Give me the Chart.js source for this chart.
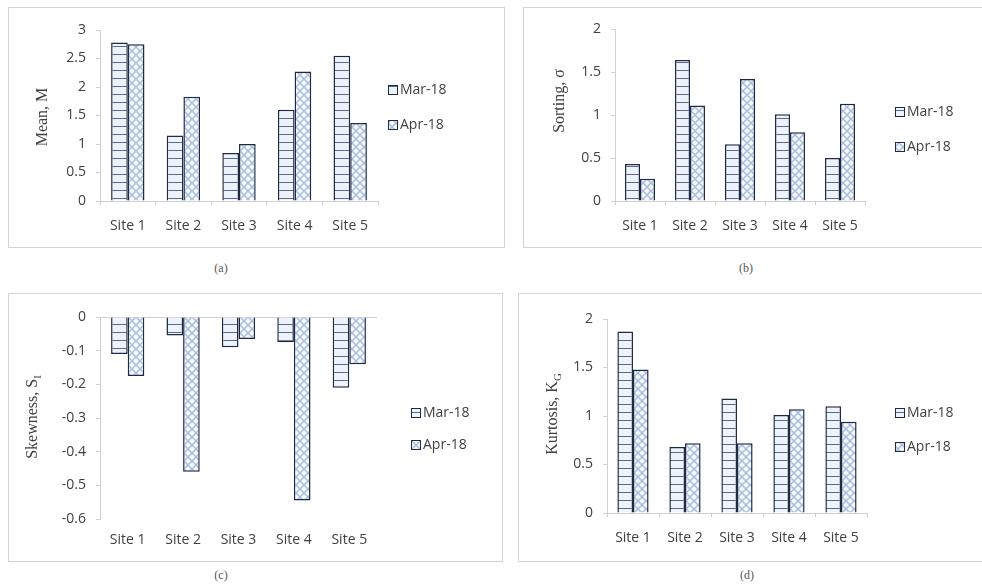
<!DOCTYPE html>
<html>
<head>
<meta charset="utf-8">
<script src="https://cdn.jsdelivr.net/npm/chart.js@4.4.0/dist/chart.umd.min.js"></script>
<style>
body{margin:0;background:#fff;width:982px;height:587px;position:relative;overflow:hidden;font-family:"Open Sans",sans-serif}
.box{position:absolute;border:1px solid #d4d4d4;box-sizing:border-box}
canvas{position:absolute}
.cap{position:absolute;font:12px "Liberation Serif",serif;color:#555;transform:translate(-50%,-50%)}
</style>
</head>
<body>
<div class="box" style="left:8px;top:7px;width:497px;height:241px"></div>
<div class="box" style="left:523px;top:7px;width:470px;height:241px"></div>
<div class="box" style="left:8px;top:293px;width:495px;height:269px"></div>
<div class="box" style="left:518px;top:293px;width:475px;height:269px"></div>
<canvas id="cA" width="497" height="241" style="left:8px;top:7px"></canvas>
<canvas id="cB" width="459" height="241" style="left:523px;top:7px"></canvas>
<canvas id="cC" width="495" height="269" style="left:8px;top:293px"></canvas>
<canvas id="cD" width="464" height="269" style="left:518px;top:293px"></canvas>
<div class="cap" style="left:221px;top:268px">(a)</div>
<div class="cap" style="left:746px;top:268px">(b)</div>
<div class="cap" style="left:221px;top:575px">(c)</div>
<div class="cap" style="left:747px;top:575px">(d)</div>
<script>
const sites = ['Site 1', 'Site 2', 'Site 3', 'Site 4', 'Site 5'];
const seriesNames = ['Mar-18', 'Apr-18'];

const meanMar = [2.78, 1.15, 0.84, 1.6, 2.55];
const meanApr = [2.75, 1.83, 1.0, 2.27, 1.37];
const sortMar = [0.43, 1.64, 0.66, 1.01, 0.5];
const sortApr = [0.26, 1.11, 1.42, 0.8, 1.13];
const skewMar = [-0.11, -0.055, -0.09, -0.075, -0.21];
const skewApr = [-0.175, -0.46, -0.065, -0.545, -0.14];
const kurtMar = [1.87, 0.68, 1.18, 1.01, 1.1];
const kurtApr = [1.48, 0.72, 0.72, 1.07, 0.94];

// hatch patterns similar to the Excel fills
function makePattern(kind) {
    const p = document.createElement('canvas');
    p.width = 8; p.height = 8;
    const g = p.getContext('2d');
    if (kind === 'h') {
        g.fillStyle = '#eef2fa';
        g.fillRect(0, 0, 8, 8);
        g.fillStyle = '#5b6a8c';
        g.fillRect(0, 7, 8, 1);
    } else {
        g.fillStyle = '#f5f8fd';
        g.fillRect(0, 0, 8, 8);
        g.strokeStyle = '#a9bde0';
        g.lineWidth = 1.5;
        g.beginPath();
        g.moveTo(0, 0); g.lineTo(8, 8);
        g.moveTo(8, 0); g.lineTo(0, 8);
        g.stroke();
    }
    return g.createPattern(p, 'repeat');
}
const marFill = makePattern('h');
const aprFill = makePattern('x');

const decor = {
    id: 'decor',
    afterDraw(chart, args, o) {
        const c = chart.ctx;
        c.save();
        c.translate(o.tx, o.ty);
        c.rotate(-Math.PI / 2);
        c.fillStyle = '#404040';
        c.textBaseline = 'middle';
        c.font = '16px "Liberation Serif"';
        const w1 = c.measureText(o.title).width;
        c.font = '11px "Liberation Serif"';
        const w2 = o.sub ? c.measureText(o.sub).width : 0;
        const x = -(w1 + w2) / 2;
        c.font = '16px "Liberation Serif"';
        c.fillText(o.title, x, 0);
        if (o.sub) {
            c.font = '11px "Liberation Serif"';
            c.fillText(o.sub, x + w1, 5);
        }
        c.restore();

        c.save();
        chart.data.datasets.forEach((ds, i) => {
            const y = o.ly[i];
            c.fillStyle = ds.backgroundColor;
            c.fillRect(o.lx, y - 5, 10, 10);
            c.strokeStyle = '#1f2a44';
            c.lineWidth = 1;
            c.strokeRect(o.lx + 0.5, y - 4.5, 9, 9);
            c.fillStyle = '#404040';
            c.font = '14px "Open Sans"';
            c.textBaseline = 'middle';
            c.fillText(ds.label, o.lx + 12, y);
        });
        c.restore();
    }
};

const fmt = v => String(Number(v.toFixed(2)));

function makeChart(id, mar, apr, yMin, yMax, step, pad, deco, negative) {
    return new Chart(document.getElementById(id), {
        type: 'bar',
        data: {
            labels: sites,
            datasets: [{
                label: seriesNames[0],
                data: mar,
                backgroundColor: marFill,
                borderColor: '#1f2a44',
                borderWidth: 1.5
            }, {
                label: seriesNames[1],
                data: apr,
                backgroundColor: aprFill,
                borderColor: '#1f2a44',
                borderWidth: 1.5
            }]
        },
        options: {
            responsive: false,
            animation: false,
            layout: { padding: pad },
            datasets: { bar: { categoryPercentage: 0.6, barPercentage: 1 } },
            plugins: {
                legend: { display: false },
                tooltip: { enabled: false },
                decor: deco
            },
            scales: {
                x: {
                    afterFit: s => { s.height = 30; },
                    border: { display: !negative, color: '#d0d0d0' },
                    grid: {
                        drawOnChartArea: false,
                        tickLength: 4,
                        color: negative ? 'rgba(0,0,0,0)' : '#d0d0d0'
                    },
                    ticks: {
                        autoSkip: false, maxRotation: 0, padding: negative ? 9 : 13,
                        color: '#404040', font: { family: 'Open Sans', size: 14 }
                    }
                },
                y: {
                    min: yMin,
                    max: yMax,
                    afterFit: s => { s.width = 60; },
                    border: { color: '#d0d0d0' },
                    grid: {
                        drawOnChartArea: !!negative,
                        tickLength: 4,
                        tickColor: '#d0d0d0',
                        color: ctx => (ctx.tick && ctx.tick.value === 0) ? '#d0d0d0' : 'rgba(0,0,0,0)'
                    },
                    ticks: {
                        stepSize: step, padding: 10, callback: fmt,
                        color: '#404040', font: { family: 'Open Sans', size: 14 }
                    }
                }
            }
        },
        plugins: [decor]
    });
}

makeChart('cA', meanMar, meanApr, 0, 3, 0.5,
    { left: 32, right: 127, top: 23, bottom: 17 },
    { title: 'Mean, M', sub: '', tx: 35, ty: 110, lx: 380, ly: [83, 118] });
makeChart('cB', sortMar, sortApr, 0, 2, 0.5,
    { left: 32, right: 117, top: 22, bottom: 17 },
    { title: 'Sorting, σ', sub: '', tx: 37, ty: 94, lx: 372, ly: [105, 140] });
makeChart('cC', skewMar, skewApr, -0.6, 0, 0.1,
    { left: 32, right: 126, top: 24, bottom: 13 },
    { title: 'Skewness, S', sub: 'I', tx: 25, ty: 124, lx: 403, ly: [120, 152] }, true);
makeChart('cD', kurtMar, kurtApr, 0, 2, 0.5,
    { left: 29, right: 115, top: 26, bottom: 19 },
    { title: 'Kurtosis, K', sub: 'G', tx: 35, ty: 121, lx: 377, ly: [120, 154] });
</script>
</body>
</html>
